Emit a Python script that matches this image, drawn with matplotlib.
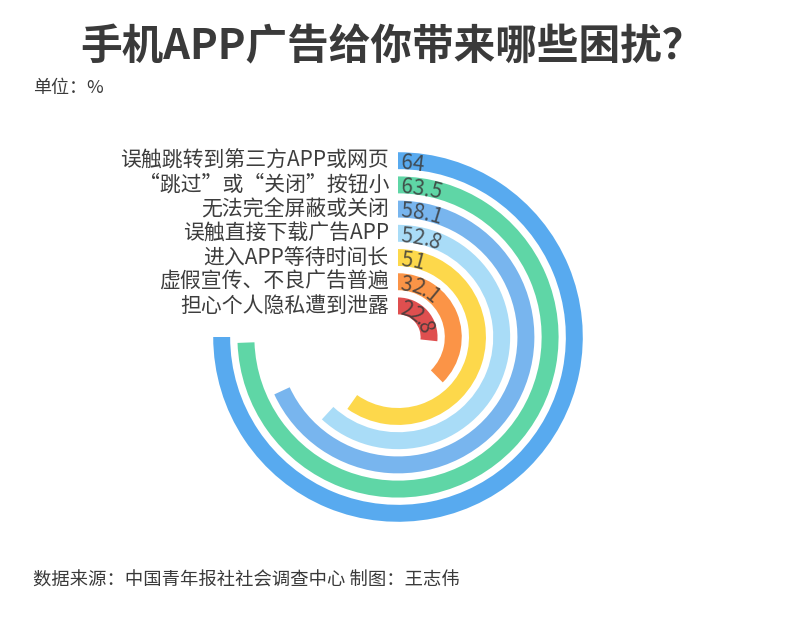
"""Radial bar chart: 手机APP广告给你带来哪些困扰？"""

import matplotlib

matplotlib.use("Agg")
import matplotlib.pyplot as plt
import matplotlib.transforms as mtransforms
import numpy as np

plt.rcParams["font.family"] = ["Noto Sans CJK SC", "DejaVu Sans"]

# Data, outer ring first
LABELS = [
    "误触跳转到第三方APP或网页",
    "“跳过”或“关闭”按钮小",
    "无法完全屏蔽或关闭",
    "误触直接下载广告APP",
    "进入APP等待时间长",
    "虚假宣传、不良广告普遍",
    "担心个人隐私遭到泄露",
]
VALUES = [64, 63.5, 58.1, 52.8, 51, 32.1, 22.8]
VALUE_TEXT = ["64", "63.5", "58.1", "52.8", "51", "32.1", "22.8"]
COLORS = ["#58aaef", "#5fd6a6", "#78b5ee", "#a9dcf7", "#fdd84b", "#fb9447", "#df4f4f"]

FULL_SCALE = 64 / 0.75  # 64 covers three quarters of the circle

W, H, DPI = 800, 627, 100
CX, CY = 398, 337          # ring centre in pixels (from top)
R_AX = 186                 # axes radius in pixels
R_ORIGIN = -0.283
R_MAX = 7.4

fig = plt.figure(figsize=(W / DPI, H / DPI), dpi=DPI)
ax = fig.add_axes(
    [(CX - R_AX) / W, (H - CY - R_AX) / H, 2 * R_AX / W, 2 * R_AX / H],
    projection="polar",
)
ax.set_theta_zero_location("N")
ax.set_theta_direction(-1)
ax.set_rlim(0, R_MAX)
ax.set_rorigin(R_ORIGIN)
ax.axis("off")

n = len(VALUES)
radii = np.arange(n, 0, -1)  # outer ring has the largest radius
widths = np.array(VALUES) / FULL_SCALE * 2 * np.pi
ax.barh(radii, widths, left=0, height=0.7, color=COLORS, edgecolor="none")

# category labels to the left of the ring starts
offset = mtransforms.offset_copy(ax.transData, fig=fig, x=-9, y=0, units="dots")
for r, lab in zip(radii, LABELS):
    ax.text(0, r, lab, transform=offset, ha="right", va="center",
            fontsize=15, color="#3d3d3d")

# value labels set along each arc, one character at a time
px_per_r = R_AX / (R_MAX - R_ORIGIN)
fs = 15
em = fs * DPI / 72
adv = {".": 0.27}
for r, txt in zip(radii, VALUE_TEXT):
    rp = (r - R_ORIGIN) * px_per_r
    pos = 3.0
    for ch in txt:
        a = adv.get(ch, 0.57) * em
        theta = (pos + a / 2) / rp
        ax.text(theta, r, ch, ha="center", va="center_baseline",
                rotation=-np.degrees(theta), rotation_mode="anchor",
                fontsize=fs, color="#3a3a3a", alpha=0.85)
        pos += a

fig.text(0.49, 1 - 47 / H, "手机APP广告给你带来哪些困扰？", ha="center", va="center",
         fontsize=30, fontweight="bold", color="#3a3a3a")
fig.text(33 / W, 1 - 88 / H, "单位：%", ha="left", va="center",
         fontsize=13, color="#3a3a3a")
fig.text(33 / W, 1 - 581 / H, "数据来源：中国青年报社社会调查中心 制图：王志伟",
         ha="left", va="center", fontsize=13.2, color="#3a3a3a")

fig.savefig("out.png", dpi=DPI, facecolor="white")
